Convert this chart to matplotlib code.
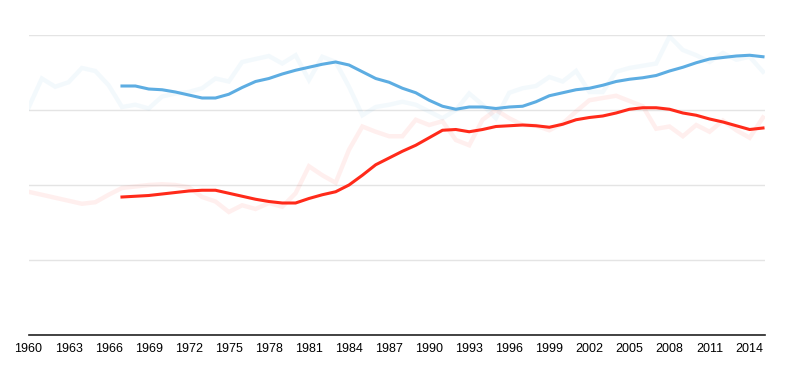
import numpy as np
import matplotlib
matplotlib.use("Agg")
import matplotlib.pyplot as plt

# yearly values (faint) and their moving average (bold), 1960-2015
years = list(range(1960, 2016))
avg_years = list(range(1967, 2016))

blue_raw = [3.03, 3.42, 3.31, 3.37, 3.56, 3.52, 3.33, 3.04, 3.07, 3.02,
            3.18, 3.22, 3.24, 3.29, 3.42, 3.38, 3.64, 3.68, 3.72, 3.62,
            3.73, 3.40, 3.71, 3.64, 3.31, 2.93, 3.04, 3.07, 3.11, 3.07,
            2.98, 2.89, 3.00, 3.22, 3.07, 2.89, 3.23, 3.29, 3.32, 3.44,
            3.38, 3.52, 3.24, 3.24, 3.51, 3.56, 3.59, 3.62, 3.98, 3.80,
            3.73, 3.64, 3.76, 3.67, 3.71, 3.51]

red_raw = [1.91, 1.87, 1.83, 1.79, 1.75, 1.77, 1.87, 1.96, 1.98, 2.00,
           2.01, 2.00, 1.97, 1.84, 1.78, 1.64, 1.73, 1.68, 1.76, 1.71,
           1.89, 2.25, 2.13, 2.03, 2.47, 2.78, 2.71, 2.65, 2.65, 2.87,
           2.80, 2.85, 2.60, 2.53, 2.87, 3.00, 2.89, 2.80, 2.79, 2.73,
           2.82, 2.98, 3.13, 3.16, 3.19, 3.12, 3.05, 2.75, 2.78, 2.65,
           2.80, 2.71, 2.86, 2.73, 2.63, 2.90]

blue_avg = [3.32, 3.32, 3.28, 3.27, 3.24, 3.20, 3.16, 3.16, 3.21, 3.30,
            3.38, 3.42, 3.48, 3.53, 3.57, 3.61, 3.64, 3.60, 3.51, 3.42,
            3.37, 3.29, 3.23, 3.13, 3.05, 3.01, 3.04, 3.04, 3.02, 3.04,
            3.05, 3.11, 3.19, 3.23, 3.27, 3.29, 3.33, 3.38, 3.41, 3.43,
            3.46, 3.52, 3.57, 3.63, 3.68, 3.70, 3.72, 3.73, 3.71]

red_avg = [1.84, 1.85, 1.86, 1.88, 1.90, 1.92, 1.93, 1.93, 1.89, 1.85,
           1.81, 1.78, 1.76, 1.76, 1.82, 1.87, 1.91, 2.00, 2.13, 2.27,
           2.36, 2.45, 2.53, 2.63, 2.73, 2.74, 2.71, 2.74, 2.78, 2.79,
           2.80, 2.79, 2.77, 2.81, 2.87, 2.90, 2.92, 2.96, 3.01, 3.03,
           3.03, 3.01, 2.96, 2.93, 2.88, 2.84, 2.79, 2.74, 2.76]

tick_years = list(range(1960, 2015, 3))

plt.rcParams['font.family'] = ['Liberation Sans', 'DejaVu Sans']

fig = plt.figure(figsize=(7.87, 3.71), dpi=100)
ax = fig.add_axes([28.5 / 787, 36 / 371, 736.5 / 787, 300 / 371])

ax.plot(years, blue_raw, color='#5dade2', alpha=0.07, lw=3.2, solid_joinstyle='miter')
ax.plot(years, red_raw, color='#ff2a1a', alpha=0.07, lw=3.2, solid_joinstyle='miter')
ax.plot(avg_years, blue_avg, color='#5dade2', lw=2.2)
ax.plot(avg_years, red_avg, color='#ff2a1a', lw=2.2)

ax.set_xlim(1960, 2015.15)
ax.set_ylim(0, 4)
ax.set_yticks([0, 1, 2, 3, 4])
ax.set_yticklabels([])
ax.set_xticks(tick_years)
ax.set_xticklabels([str(y) for y in tick_years], fontsize=9)
ax.tick_params(axis='both', length=0)
ax.tick_params(axis='x', pad=6)
ax.grid(axis='y', color='#e4e4e4', lw=1)
ax.set_axisbelow(True)
for side in ['top', 'right', 'left']:
    ax.spines[side].set_visible(False)
ax.spines['bottom'].set_color('#222222')
ax.spines['bottom'].set_linewidth(1.2)

fig.savefig('out.png', dpi=100)
